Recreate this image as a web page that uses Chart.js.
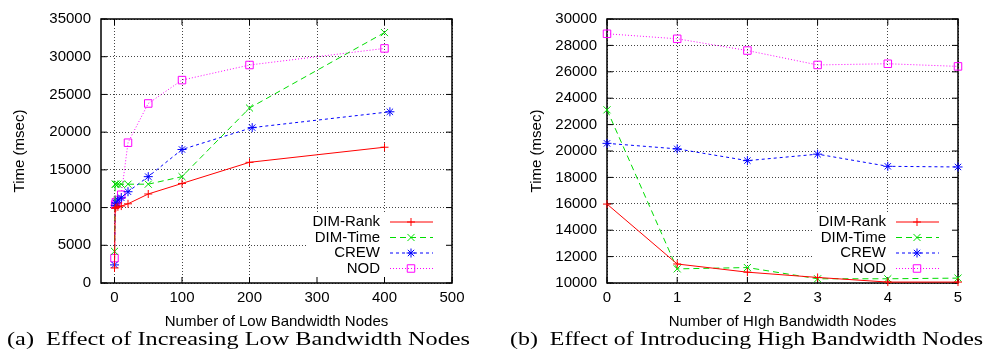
<!DOCTYPE html>
<html>
<head>
<meta charset="utf-8">
<script src="https://cdn.jsdelivr.net/npm/chart.js@4.4.0/dist/chart.umd.min.js"></script>
<style>
  body { margin: 0; background: #fff; width: 985px; height: 352px; overflow: hidden; position: relative; }
  canvas { position: absolute; top: 0; }
  #low-chart { left: 0; }
  #high-chart { left: 500px; }
  .caption {
    position: absolute; top: 330px; color: #000; white-space: nowrap;
    font: 18px 'Liberation Serif', 'Times New Roman', serif; line-height: 18px;
    transform-origin: 0 0;
  }
</style>
</head>
<body>
<canvas id="low-chart" width="480" height="340"></canvas>
<canvas id="high-chart" width="485" height="340"></canvas>
<div class="caption" style="left:7px" data-width="463">(a)&nbsp; Effect of Increasing Low Bandwidth Nodes</div>
<div class="caption" style="left:510px" data-width="473">(b)&nbsp; Effect of Introducing High Bandwidth Nodes</div>
<script>
// ---- data ----
const seriesNames = ['DIM-Rank', 'DIM-Time', 'CREW', 'NOD'];

// (a) low bandwidth nodes
const lowNodes = [0, 1, 2, 5, 10, 20, 50, 100, 200, 400];
const crewLowNodes = [0, 1, 2, 5, 10, 20, 50, 100, 204, 408];
const lowRank = [2000, 9900, 10000, 10100, 10200, 10500, 11800, 13200, 16000, 18000];
const lowTime = [4200, 13100, 13100, 13100, 13100, 13100, 13100, 14100, 23200, 33200];
const lowCrew = [2400, 10300, 10600, 11000, 11300, 12100, 14100, 17700, 20600, 22700];
const lowNod = [3300, 10400, 10700, 11000, 11700, 18600, 23800, 26900, 28900, 31100];
const lowXTicks = [0, 100, 200, 300, 400, 500];

// (b) high bandwidth nodes
const highNodes = [0, 1, 2, 3, 4, 5];
const highRank = [15980, 11440, 10820, 10420, 10070, 10070];
const highTime = [23120, 11070, 11170, 10320, 10320, 10370];
const highCrew = [20580, 20160, 19270, 19760, 18840, 18790];
const highNod = [28880, 28500, 27610, 26520, 26610, 26410];
const highXTicks = [0, 1, 2, 3, 4, 5];

// ---- styles (gnuplot look) ----
const FONT = "'Liberation Sans', Arial, Helvetica, sans-serif";
const lineStyles = [
  { color: '#ff0000', dash: [], marker: 'cross', size: 4 },
  { color: '#00dd00', dash: [6, 4], marker: 'crossRot', size: 5 },
  { color: '#0000ff', dash: [3, 3], marker: 'star', size: 4.5 },
  { color: '#ff00ff', dash: [1, 2], marker: 'rect', size: 5.3 }
];

function buildDatasets(xLists, yLists) {
  return yLists.map((ys, i) => {
    const st = lineStyles[i];
    const xs = xLists[i];
    return {
      label: seriesNames[i],
      data: ys.map((y, j) => ({ x: xs[j], y: y })),
      borderColor: st.color,
      backgroundColor: 'rgba(0,0,0,0)',
      borderWidth: 1,
      borderDash: st.dash,
      pointStyle: st.marker,
      pointRadius: st.size,
      pointBorderColor: st.color,
      pointBackgroundColor: 'rgba(0,0,0,0)',
      pointBorderWidth: 1,
      tension: 0,
      fill: false,
      clip: false
    };
  });
}

// frame, inward ticks and the key in the lower right corner
const gnuplotFrame = {
  id: 'gnuplotFrame',
  beforeDatasetsDraw(chart) {
    const { ctx, chartArea: a, scales } = chart;
    ctx.save();
    ctx.fillStyle = '#fff';
    ctx.fillRect(a.right - 146, a.bottom - 70, 146, 70);

    ctx.strokeStyle = '#000';
    ctx.lineWidth = 1;
    ctx.beginPath();
    scales.x.ticks.forEach(t => {
      const px = scales.x.getPixelForValue(t.value);
      ctx.moveTo(px, a.bottom); ctx.lineTo(px, a.bottom - 6);
      ctx.moveTo(px, a.top); ctx.lineTo(px, a.top + 6);
    });
    scales.y.ticks.forEach(t => {
      const py = scales.y.getPixelForValue(t.value);
      ctx.moveTo(a.left, py); ctx.lineTo(a.left + 6, py);
      ctx.moveTo(a.right, py); ctx.lineTo(a.right - 6, py);
    });
    ctx.stroke();

    ctx.lineWidth = 1.5;
    ctx.strokeRect(a.left, a.top, a.right - a.left, a.bottom - a.top);
    ctx.restore();
  },
  afterDatasetsDraw(chart) {
    const { ctx, chartArea: a } = chart;
    ctx.save();
    chart.data.datasets.forEach((ds, i) => {
      const y = a.bottom - 61 + i * 15.5;
      ctx.fillStyle = '#000';
      ctx.font = '15px ' + FONT;
      ctx.textAlign = 'right';
      ctx.textBaseline = 'middle';
      ctx.fillText(ds.label, a.right - 72, y);

      ctx.strokeStyle = ds.borderColor;
      ctx.lineWidth = 1;
      ctx.setLineDash(ds.borderDash);
      ctx.beginPath();
      ctx.moveTo(a.right - 62, y);
      ctx.lineTo(a.right - 19, y);
      ctx.stroke();
      ctx.setLineDash([]);

      ctx.fillStyle = 'rgba(0,0,0,0)';
      Chart.helpers.drawPoint(ctx, {
        pointStyle: ds.pointStyle, radius: ds.pointRadius, rotation: 0, borderWidth: 1
      }, a.right - 41, y);
    });
    ctx.restore();
  }
};

function makeChart(canvasId, datasets, opt) {
  const canvas = document.getElementById(canvasId);
  return new Chart(canvas, {
    type: 'line',
    data: { datasets: datasets },
    plugins: [gnuplotFrame],
    options: {
      responsive: false,
      animation: false,
      layout: { padding: { left: 0, top: 16, right: opt.padRight, bottom: 0 } },
      plugins: { legend: { display: false }, tooltip: { enabled: false } },
      scales: {
        x: {
          type: 'linear',
          min: opt.xMin,
          max: opt.xMax,
          afterBuildTicks: s => { s.ticks = opt.xTicks.map(v => ({ value: v })); },
          afterFit: s => { s.height = 57; },
          grid: { color: '#444', lineWidth: 1, drawTicks: false },
          border: { display: false, dash: [1, 2] },
          ticks: {
            color: '#000', font: { family: FONT, size: 15 }, padding: 6,
            maxRotation: 0, autoSkip: false, callback: v => String(v)
          },
          title: {
            display: true, text: opt.xTitle, color: '#000',
            font: { family: FONT, size: 15 }, padding: { top: 0, bottom: 9 }
          }
        },
        y: {
          type: 'linear',
          min: opt.yMin,
          max: opt.yMax,
          afterFit: s => { s.width = opt.yWidth; },
          grid: { color: '#444', lineWidth: 1, drawTicks: false },
          border: { display: false, dash: [1, 2] },
          ticks: {
            stepSize: opt.yStep, color: '#000', font: { family: FONT, size: 15 },
            padding: 10, callback: v => String(v)
          },
          title: {
            display: true, text: 'Time (msec)', color: '#000',
            font: { family: FONT, size: 15 }, padding: { top: opt.yTitlePad, bottom: 0 }
          }
        }
      }
    }
  });
}

makeChart('low-chart',
  buildDatasets([lowNodes, lowNodes, crewLowNodes, lowNodes], [lowRank, lowTime, lowCrew, lowNod]),
  { xMin: -20, xMax: 500, xTicks: lowXTicks, xTitle: 'Number of Low Bandwidth Nodes',
    yMin: 0, yMax: 35000, yStep: 5000, yWidth: 101, yTitlePad: 11, padRight: 28 });

makeChart('high-chart',
  buildDatasets([highNodes, highNodes, highNodes, highNodes], [highRank, highTime, highCrew, highNod]),
  { xMin: 0, xMax: 5, xTicks: highXTicks, xTitle: 'Number of HIgh Bandwidth Nodes',
    yMin: 10000, yMax: 30000, yStep: 2000, yWidth: 107, yTitlePad: 28, padRight: 27 });

// stretch captions to the width they have in the figure
document.querySelectorAll('.caption').forEach(el => {
  const w = el.offsetWidth;
  el.style.transform = 'scaleX(' + (Number(el.dataset.width) / w) + ')';
});
</script>
</body>
</html>
